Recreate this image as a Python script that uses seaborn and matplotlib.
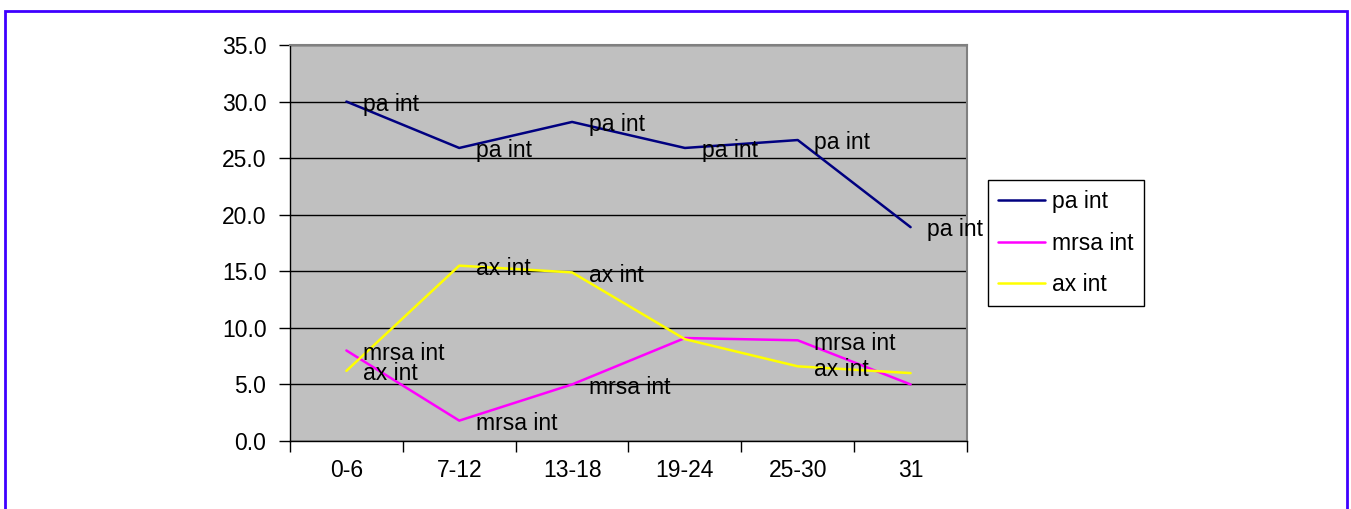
import pandas as pd
import seaborn as sns
import numpy as np
import matplotlib
matplotlib.use('Agg')
import matplotlib.pyplot as plt
from matplotlib.patches import Rectangle

# data
categories = ['0-6', '7-12', '13-18', '19-24', '25-30', '31']
pa_int = [30.0, 25.9, 28.2, 25.9, 26.6, 18.9]
mrsa_int = [8.0, 1.8, 5.0, 9.1, 8.9, 5.0]
ax_int = [6.2, 15.5, 14.9, 9.0, 6.6, 6.0]

series_names = ['pa int', 'mrsa int', 'ax int']
series_colors = ['#000080', '#FF00FF', '#FFFF00']
# puntos que llevan etiqueta de datos en el original
label_points = {'pa int': [0, 1, 2, 3, 4, 5],
                'mrsa int': [0, 1, 2, 4],
                'ax int': [0, 1, 2, 4]}

# long form table for seaborn
rows = []
for name, vals in zip(series_names, [pa_int, mrsa_int, ax_int]):
    for i, v in enumerate(vals):
        rows.append({'pos': i, 'cat': categories[i], 'serie': name, 'valor': v})
df = pd.DataFrame(rows)

sns.set_style('white')
plt.rcParams['font.family'] = ['Liberation Sans', 'DejaVu Sans']
plt.rcParams['text.color'] = 'black'
fs = 16.5

fig = plt.figure(figsize=(13.51, 5.09), dpi=100)
ax = fig.add_axes([290 / 1351, 1 - 441 / 509, 677 / 1351, 396 / 509])
ax.set_facecolor('#C0C0C0')

sns.lineplot(data=df, x='pos', y='valor', hue='serie', hue_order=series_names,
             palette=series_colors, linewidth=1.8, sort=False, ax=ax, legend=False)

# etiquetas de datos
for name, vals in zip(series_names, [pa_int, mrsa_int, ax_int]):
    for i in label_points[name]:
        ax.annotate(name, (i, vals[i]), xytext=(12, -2), textcoords='offset points',
                    ha='left', va='center', fontsize=fs, color='black',
                    annotation_clip=False)

ax.set_xlim(-0.5, len(categories) - 0.5)
ax.set_ylim(0, 35)
ax.set_yticks(np.arange(0, 35.1, 5))
ax.set_yticklabels([f'{t:.1f}' for t in np.arange(0, 35.1, 5)], fontsize=fs)
ax.set_xticks(range(len(categories)))
ax.set_xticklabels(categories, fontsize=fs)
ax.set_xticks(np.arange(-0.5, len(categories), 1), minor=True)
ax.tick_params(axis='x', which='major', length=0, pad=13, labelcolor='black')
ax.tick_params(axis='x', which='minor', length=8, width=1, color='black', direction='out', bottom=True)
ax.tick_params(axis='y', length=8, width=1, color='black', direction='out', pad=9, left=True,
               labelcolor='black')
ax.yaxis.grid(True, color='black', linewidth=1)
ax.set_axisbelow(True)
ax.set_xlabel('')
ax.set_ylabel('')

for s in ['top', 'right']:
    ax.spines[s].set_color('#808080')
    ax.spines[s].set_linewidth(1.5)
for s in ['left', 'bottom']:
    ax.spines[s].set_color('black')
    ax.spines[s].set_linewidth(1)

# leyenda
handles = [plt.Line2D([], [], color=c, linewidth=1.8) for c in series_colors]
leg = fig.legend(handles, series_names, loc='upper left',
                 bbox_to_anchor=(988 / 1351, 1 - 180 / 509), fontsize=fs,
                 frameon=True, fancybox=False, framealpha=1, edgecolor='black',
                 handlelength=2.05, handletextpad=0.3, labelspacing=0.8,
                 borderpad=0.45, borderaxespad=0)
leg.get_frame().set_linewidth(1)

# marco azul exterior
fig.patches.append(Rectangle((4.5 / 1351, -0.1), 1342 / 1351, 1.1 - 10.5 / 509,
                             transform=fig.transFigure, fill=False,
                             edgecolor='#3F00FF', linewidth=2))

fig.savefig('out.png', dpi=100)
